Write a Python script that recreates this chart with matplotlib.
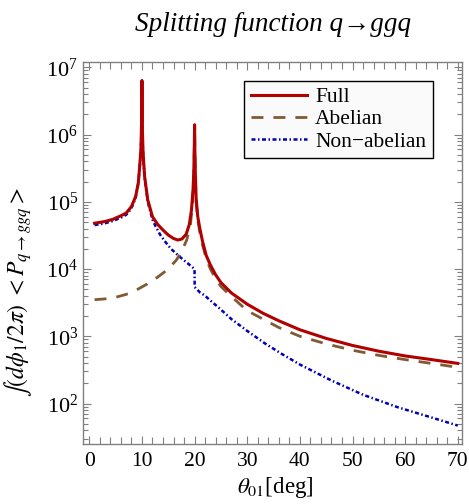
import matplotlib
matplotlib.use("Agg")
import matplotlib.pyplot as plt
from matplotlib.ticker import LogLocator, MultipleLocator, LogFormatterSciNotation, NullFormatter

plt.rcParams['font.family'] = ['Liberation Serif', 'DejaVu Serif']
plt.rcParams['mathtext.fontset'] = 'stix'

# ---- data ----
x_full = [1, 3, 4.5, 6, 7, 8, 8.8, 9.3, 9.6, 9.8, 9.9, 9.96, 10.0, 10.04, 10.1, 10.2, 10.5, 11.1,
          12, 13, 14, 15, 16, 16.8, 17.6, 18.4, 19.0, 19.4, 19.7, 19.85, 19.95, 20.0, 20.05, 20.15,
          20.3, 20.6, 21, 21.5, 22.2, 23, 24, 25, 27, 30, 33, 36, 40, 45, 50, 55, 60, 65, 70]
y_full = [4.8e4, 5.1e4, 5.5e4, 6.2e4, 6.8e4, 8.5e4, 1.2e5, 1.9e5, 3.6e5, 6.0e5, 1.2e6, 2.5e6, 6.3e6,
          2.5e6, 1.1e6, 5.6e5, 2.4e5, 1.07e5, 6.0e4, 4.6e4, 3.8e4, 3.2e4, 2.85e4, 2.7e4, 2.8e4, 3.3e4,
          4.6e4, 7.5e4, 1.5e5, 2.8e5, 7e5, 1.4e6, 6e5, 2.5e5, 1.1e5, 6e4, 4.0e4, 2.6e4, 1.6e4, 1.15e4,
          8.2e3, 6.3e3, 4.4e3, 3.0e3, 2.2e3, 1.7e3, 1.25e3, 9.3e2, 7.3e2, 6.0e2, 5.1e2, 4.5e2, 3.95e2]

x_ab = [1, 3, 5, 7, 9, 11, 13, 15, 16.5, 17.5, 18.5, 19.2, 19.6, 19.85, 19.95, 20.0, 20.05, 20.15,
        20.3, 20.6, 21, 21.5, 22.2, 23, 24, 25, 27, 30, 33, 36, 40, 45, 50, 55, 60, 65, 70]
y_ab = [3.5e3, 3.6e3, 3.8e3, 4.2e3, 4.9e3, 6.0e3, 7.6e3, 1.0e4, 1.35e4, 1.8e4, 2.7e4, 4.5e4, 9e4,
        2.4e5, 6.5e5, 1.4e6, 5.5e5, 2.2e5, 1.0e5, 5.4e4, 3.5e4, 2.3e4, 1.45e4, 1.0e4, 7.2e3, 5.5e3,
        3.9e3, 2.4e3, 1.8e3, 1.35e3, 1.0e3, 7.7e2, 6.2e2, 5.2e2, 4.5e2, 3.95e2, 3.45e2]

x_nab = [1, 3, 4.5, 6, 7, 8, 8.8, 9.3, 9.6, 9.8, 9.9, 9.96, 10.0, 10.04, 10.1, 10.2, 10.5, 11.1,
         12, 12.6, 13.5, 14.5, 15.5, 16.5, 17.5, 18.5, 19.5, 19.99, 20.01, 21, 22, 23, 24.5, 27,
         30, 33.4, 36.5, 40, 46, 52, 58.6, 65, 70]
y_nab = [4.5e4, 4.8e4, 5.2e4, 5.8e4, 6.4e4, 8.0e4, 1.15e5, 1.85e5, 3.5e5, 5.9e5, 1.2e6, 2.5e6, 6.4e6,
         2.5e6, 1.1e6, 5.5e5, 2.3e5, 1.0e5, 5.4e4, 4.3e4, 3.2e4, 2.5e4, 2.0e4, 1.7e4, 1.45e4, 1.25e4,
         1.08e4, 1.0e4, 5.4e3, 4.5e3, 4.0e3, 3.4e3, 2.7e3, 1.8e3, 1.2e3, 7.8e2, 5.5e2, 3.8e2, 2.2e2,
         1.35e2, 88, 62, 47]

labels = ["Full", "Abelian", "Non\u2212abelian"]
x_major = [0, 10, 20, 30, 40, 50, 60, 70]

# ---- figure ----
fig = plt.figure(figsize=(4.69, 5.04), dpi=100)
ax = fig.add_axes([83/469, 1-444/504, (462-83)/469, (444-62)/504])

c_red = '#B00000'
c_brown = '#7F5A33'
c_blue = '#0000B4'

ln_nab, = ax.plot(x_nab, y_nab, color=c_blue, lw=1.8, dashes=(1.6, 1.0, 0.6, 1.0),
                  dash_capstyle='butt', zorder=2, label=labels[2])
ln_ab, = ax.plot(x_ab, y_ab, color=c_brown, lw=2.0, dashes=(4.3, 3.6),
                 dash_capstyle='butt', zorder=2.5, label=labels[1])
ln_full, = ax.plot(x_full, y_full, color=c_red, lw=2.2, zorder=3, label=labels[0])

ax.set_yscale('log')
ax.set_xlim(-1.2, 70.8)
ax.set_ylim(25, 1.2e7)

ax.xaxis.set_major_locator(plt.FixedLocator(x_major))
ax.xaxis.set_minor_locator(MultipleLocator(2))
ax.yaxis.set_major_locator(LogLocator(base=10, numticks=20))
ax.yaxis.set_minor_locator(LogLocator(base=10, subs=range(2, 10), numticks=20))
ax.yaxis.set_major_formatter(LogFormatterSciNotation())
ax.yaxis.set_minor_formatter(NullFormatter())

spine_c = '#808080'
for s in ax.spines.values():
    s.set_color(spine_c)
    s.set_linewidth(1.0)
ax.tick_params(which='both', direction='in', top=True, right=True, color=spine_c,
               labelsize=16, labelcolor='black')
ax.tick_params(axis='x', labelsize=15.5)
ax.tick_params(which='major', length=6, width=0.8)
ax.tick_params(which='minor', length=3.5, width=0.8)
ax.tick_params(axis='x', which='minor', length=5)
ax.tick_params(axis='x', pad=6)

leg = ax.legend(handles=[ln_full, ln_ab, ln_nab], loc='upper left',
                bbox_to_anchor=(0.425, 0.951), borderaxespad=0, fontsize=15.5,
                frameon=True, fancybox=False, edgecolor='black', facecolor='#FAFAFA',
                framealpha=1, handlelength=2.6, handletextpad=0.4, labelspacing=0.1,
                borderpad=0.3)
leg.get_frame().set_linewidth(1.0)

fig.text(0.583, 0.952, "Splitting function q\u2192ggq", ha='center', va='center',
         fontsize=19.5, style='italic')
fig.text(275/469, 1-488/504, r"$\theta_{01}$[deg]", ha='center', va='center', fontsize=16.5)
fig.text(0.038, 1-292/504, r"$\int(d\phi_1/2\pi)\ <P_{q\rightarrow ggq}>$",
         ha='center', va='center', rotation=90, fontsize=17)

fig.savefig("out.png", dpi=100)
